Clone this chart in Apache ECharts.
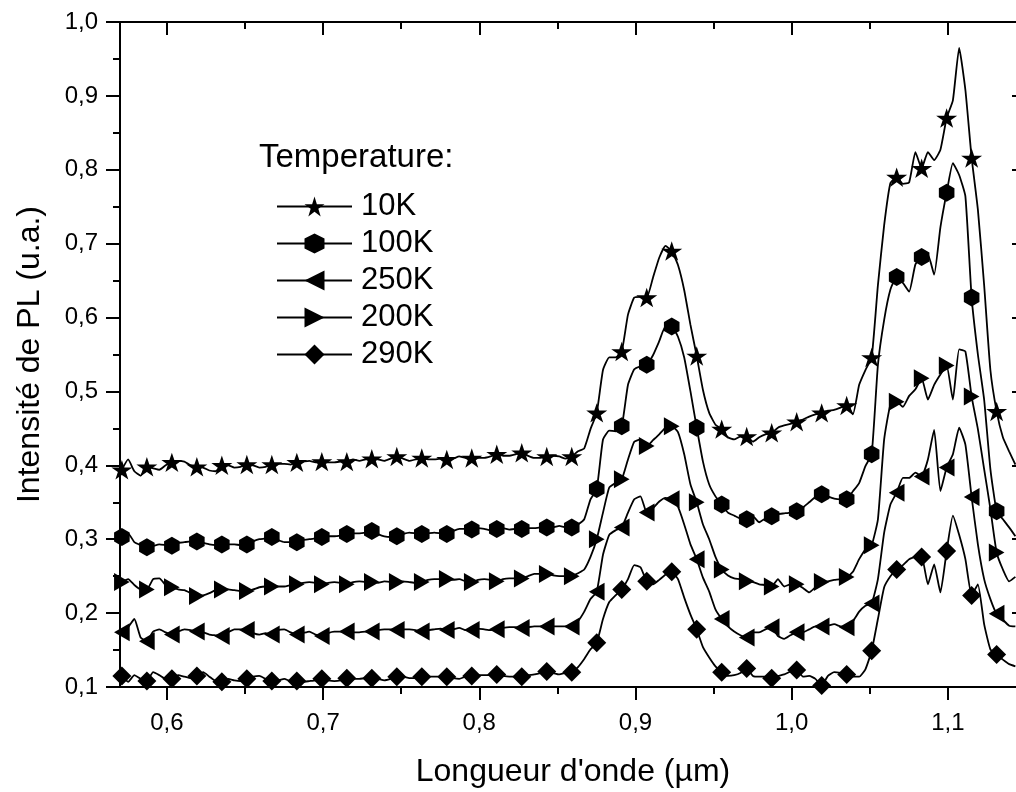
<!DOCTYPE html>
<html><head><meta charset="utf-8">
<script src="https://cdn.jsdelivr.net/npm/echarts@6/dist/echarts.min.js"></script>
<style>html,body{margin:0;padding:0;background:#fff}#c{width:1016px;height:792px}</style>
</head><body><div id="c"></div><script>
// sampling grid of the spectra (µm)
const xStart = 0.5712, xStep = 0.004, markerEvery = 4;
const seriesNames = ['10K', '100K', '250K', '200K', '290K'];
const xMajorTicks = [0.6, 0.7, 0.8, 0.9, 1.0, 1.1];
const xMinorTicks = [0.6, 0.65, 0.7, 0.75, 0.8, 0.85, 0.9, 0.95, 1.0, 1.05, 1.1];
const yMin = 0.1, yMax = 1.0, yInterval = 0.1;

const y10K = [0.394,0.408,0.392,0.386,0.398,0.396,0.394,0.400,0.404,0.406,
0.405,0.400,0.398,0.397,0.393,0.392,0.400,0.400,0.397,0.398,
0.401,0.400,0.397,0.398,0.401,0.402,0.402,0.401,0.404,0.405,
0.406,0.404,0.405,0.404,0.404,0.405,0.405,0.408,0.406,0.408,
0.409,0.408,0.406,0.409,0.412,0.409,0.406,0.408,0.410,0.408,
0.408,0.409,0.408,0.409,0.412,0.410,0.410,0.410,0.410,0.412,
0.415,0.413,0.413,0.415,0.417,0.413,0.410,0.410,0.412,0.413,
0.412,0.409,0.412,0.419,0.423,0.449,0.471,0.529,0.546,0.546,
0.554,0.604,0.627,0.628,0.627,0.654,0.681,0.697,0.690,0.671,
0.637,0.590,0.548,0.502,0.471,0.455,0.449,0.438,0.435,0.439,
0.439,0.432,0.438,0.442,0.444,0.451,0.454,0.456,0.459,0.462,
0.466,0.469,0.471,0.474,0.475,0.478,0.481,0.469,0.509,0.529,
0.546,0.644,0.725,0.782,0.790,0.781,0.783,0.824,0.802,0.824,
0.813,0.827,0.870,0.894,0.965,0.908,0.816,0.746,0.644,0.529,
0.473,0.438,0.419,0.401];

const y100K = [0.303,0.308,0.296,0.292,0.289,0.291,0.293,0.292,0.291,0.295,
0.296,0.297,0.297,0.295,0.293,0.292,0.293,0.293,0.293,0.292,
0.293,0.297,0.300,0.301,0.303,0.299,0.296,0.296,0.296,0.299,
0.300,0.301,0.303,0.304,0.304,0.305,0.307,0.308,0.308,0.309,
0.311,0.307,0.304,0.303,0.304,0.307,0.309,0.308,0.307,0.308,
0.309,0.308,0.307,0.311,0.314,0.314,0.313,0.315,0.314,0.312,
0.314,0.315,0.313,0.314,0.314,0.315,0.315,0.316,0.316,0.316,
0.318,0.316,0.316,0.320,0.327,0.354,0.368,0.435,0.447,0.446,
0.453,0.509,0.530,0.534,0.536,0.549,0.568,0.588,0.588,0.574,
0.546,0.500,0.451,0.405,0.374,0.358,0.347,0.336,0.332,0.328,
0.327,0.331,0.323,0.328,0.331,0.334,0.335,0.336,0.338,0.343,
0.350,0.357,0.361,0.358,0.355,0.354,0.354,0.365,0.376,0.399,
0.415,0.536,0.597,0.638,0.655,0.647,0.635,0.672,0.682,0.685,
0.658,0.722,0.769,0.809,0.793,0.764,0.627,0.550,0.489,0.395,
0.338,0.327,0.316,0.304];

const y250K = [0.174,0.181,0.192,0.167,0.162,0.175,0.178,0.174,0.171,0.175,
0.178,0.177,0.175,0.174,0.171,0.170,0.169,0.174,0.178,0.178,
0.177,0.173,0.171,0.173,0.171,0.177,0.178,0.174,0.171,0.173,
0.175,0.171,0.169,0.173,0.175,0.175,0.175,0.174,0.174,0.175,
0.175,0.177,0.178,0.178,0.177,0.178,0.178,0.177,0.175,0.177,
0.178,0.179,0.177,0.178,0.180,0.177,0.177,0.179,0.178,0.177,
0.178,0.180,0.181,0.181,0.180,0.181,0.182,0.182,0.182,0.182,
0.182,0.182,0.182,0.189,0.202,0.219,0.229,0.279,0.306,0.312,
0.316,0.336,0.354,0.358,0.336,0.342,0.351,0.356,0.354,0.344,
0.320,0.293,0.273,0.248,0.229,0.205,0.192,0.182,0.175,0.170,
0.167,0.174,0.174,0.178,0.181,0.169,0.165,0.170,0.174,0.174,
0.178,0.182,0.182,0.183,0.185,0.182,0.181,0.189,0.202,0.210,
0.213,0.246,0.309,0.347,0.363,0.383,0.383,0.390,0.385,0.408,
0.448,0.365,0.397,0.415,0.451,0.428,0.357,0.293,0.246,0.219,
0.199,0.191,0.183,0.182];

const y200K = [0.242,0.246,0.238,0.232,0.232,0.246,0.247,0.238,0.235,0.232,
0.231,0.227,0.223,0.224,0.227,0.231,0.232,0.232,0.231,0.230,
0.230,0.232,0.235,0.236,0.236,0.236,0.236,0.238,0.239,0.241,
0.242,0.241,0.239,0.241,0.242,0.241,0.239,0.242,0.243,0.242,
0.242,0.241,0.243,0.242,0.242,0.243,0.242,0.241,0.242,0.245,
0.246,0.246,0.246,0.245,0.246,0.243,0.242,0.245,0.246,0.245,
0.243,0.246,0.247,0.247,0.247,0.250,0.253,0.253,0.253,0.251,
0.250,0.250,0.250,0.254,0.259,0.276,0.300,0.336,0.370,0.376,
0.381,0.408,0.432,0.435,0.426,0.434,0.442,0.451,0.453,0.445,
0.415,0.374,0.350,0.320,0.300,0.276,0.259,0.251,0.247,0.246,
0.243,0.242,0.239,0.238,0.236,0.246,0.236,0.239,0.239,0.234,
0.228,0.235,0.242,0.243,0.245,0.246,0.249,0.256,0.273,0.286,
0.292,0.327,0.435,0.482,0.486,0.479,0.494,0.503,0.518,0.489,
0.509,0.523,0.535,0.489,0.557,0.554,0.493,0.449,0.395,0.341,
0.282,0.259,0.243,0.249];

const y290K = [0.115,0.107,0.116,0.111,0.108,0.120,0.116,0.111,0.111,0.116,
0.114,0.112,0.115,0.120,0.114,0.108,0.107,0.111,0.109,0.108,
0.111,0.114,0.115,0.111,0.108,0.109,0.111,0.108,0.108,0.107,
0.108,0.109,0.111,0.109,0.108,0.109,0.112,0.111,0.111,0.112,
0.112,0.111,0.109,0.111,0.114,0.114,0.112,0.112,0.114,0.114,
0.114,0.114,0.114,0.112,0.111,0.114,0.115,0.116,0.116,0.116,
0.117,0.115,0.114,0.114,0.114,0.116,0.117,0.119,0.121,0.119,
0.117,0.119,0.120,0.127,0.138,0.151,0.160,0.192,0.215,0.224,
0.232,0.246,0.265,0.262,0.243,0.239,0.245,0.252,0.256,0.246,
0.221,0.198,0.178,0.154,0.140,0.128,0.120,0.115,0.116,0.119,
0.125,0.115,0.114,0.114,0.112,0.115,0.117,0.121,0.123,0.114,
0.115,0.111,0.102,0.115,0.120,0.119,0.117,0.114,0.114,0.124,
0.149,0.192,0.235,0.250,0.259,0.265,0.273,0.276,0.276,0.239,
0.266,0.228,0.284,0.332,0.306,0.273,0.224,0.239,0.185,0.151,
0.144,0.137,0.131,0.128];

const seriesValues = [y10K, y100K, y250K, y200K, y290K];

const FONT = '"Liberation Sans", Arial, Helvetica, sans-serif';
const STAR = 'path://M50,0 L61.8,35.4 L100,35.4 L69.1,57.3 L80.9,92.7 L50,70.8 L19.1,92.7 L30.9,57.3 L0,35.4 L38.2,35.4 Z';
const HEX = 'path://M50,0 L93.3,25 L93.3,75 L50,100 L6.7,75 L6.7,25 Z';
const TRI_LEFT = 'path://M0,50 L87,0 L87,100 Z';
const TRI_RIGHT = 'path://M87,50 L0,0 L0,100 Z';
const symbols = [STAR, HEX, TRI_LEFT, TRI_RIGHT, 'diamond'];
const symbolSizes = [21, 18, 18, 18, 19];

const fmt = v => (Math.round(v * 10) / 10).toFixed(1).replace('.', ',');
const black = '#000';
const lineW = { color: black, width: 2 };

function buildData(ys) {
  return ys.map((y, i) => {
    const x = +(xStart + i * xStep).toFixed(4);
    return i % markerEvery === 0 ? [x, y] : { value: [x, y], symbol: 'none' };
  });
}

const xMin = 0.57, xMax = 1.15;
function xAx(pos, ticks, len, inside, extra) {
  return Object.assign({
    type: 'value', position: pos, min: xMin, max: xMax,
    axisLine: { show: false, onZero: false, lineStyle: lineW },
    axisTick: { show: true, inside: inside, length: len, customValues: ticks, lineStyle: lineW },
    axisLabel: { show: false },
    splitLine: { show: false }
  }, extra || {});
}

const chart = echarts.init(document.getElementById('c'), null, { renderer: 'canvas' });
chart.setOption({
  animation: false,
  backgroundColor: '#fff',
  title: {
    text: 'Temperature:', left: 259, top: 141, padding: 0,
    textStyle: { fontSize: 33, fontWeight: 'normal', fontFamily: FONT, color: black }
  },
  legend: {
    orient: 'vertical', left: 276, top: 191, padding: 0,
    itemWidth: 75, itemHeight: 25, itemGap: 6, selectedMode: false,
    textStyle: { fontSize: 31, fontFamily: FONT, color: black, lineHeight: 31, padding: [0, 0, 0, 4] },
    data: seriesNames
  },
  grid: { left: 120, top: 22, right: -10, bottom: 105, outerBoundsMode: 'none', containLabel: false },
  xAxis: [
    xAx('bottom', xMajorTicks, 13, false, {
      axisLine: { show: true, onZero: false, lineStyle: lineW },
      axisLabel: { show: true, customValues: xMajorTicks, formatter: fmt, margin: 24, fontSize: 24, color: black, fontFamily: FONT },
      name: "Longueur d'onde (µm)", nameLocation: 'middle', nameGap: 69,
      nameTextStyle: { fontSize: 32, fontFamily: FONT, color: black }
    }),
    xAx('bottom', xMinorTicks, 7, false),
    xAx('top', xMajorTicks, 13, true, { axisLine: { show: true, onZero: false, lineStyle: lineW } }),
    xAx('top', xMinorTicks, 7, true)
  ],
  yAxis: [
    {
      type: 'value', position: 'left', min: yMin, max: yMax, interval: yInterval,
      axisLine: { show: true, onZero: false, lineStyle: lineW },
      axisTick: { show: true, inside: false, length: 14, lineStyle: lineW },
      minorTick: { show: true, splitNumber: 2, length: 7, lineStyle: lineW },
      axisLabel: { formatter: fmt, margin: 22, fontSize: 24, color: black, fontFamily: FONT },
      splitLine: { show: false }, minorSplitLine: { show: false },
      name: 'Intensité de PL (u.a.)', nameLocation: 'middle', nameRotate: 90, nameGap: 74,
      nameTextStyle: { fontSize: 32, fontFamily: FONT, color: black }
    },
    {
      type: 'value', position: 'right', min: yMin, max: yMax, interval: yInterval,
      axisLine: { show: true, onZero: false, lineStyle: lineW },
      axisTick: { show: true, inside: true, length: 14, lineStyle: lineW },
      minorTick: { show: true, splitNumber: 2, length: 7, lineStyle: lineW },
      axisLabel: { show: false },
      splitLine: { show: false }, minorSplitLine: { show: false }
    }
  ],
  series: seriesNames.map((name, k) => ({
    type: 'line', name: name, xAxisIndex: 0, yAxisIndex: 0,
    data: buildData(seriesValues[k]),
    symbol: symbols[k], symbolSize: symbolSizes[k], symbolKeepAspect: true,
    showSymbol: true, showAllSymbol: true, smooth: 0.15,
    lineStyle: { color: black, width: 1.8 },
    itemStyle: { color: black, borderWidth: 0 },
    emphasis: { disabled: true },
    z: 2 + k
  }))
});
</script></body></html>
